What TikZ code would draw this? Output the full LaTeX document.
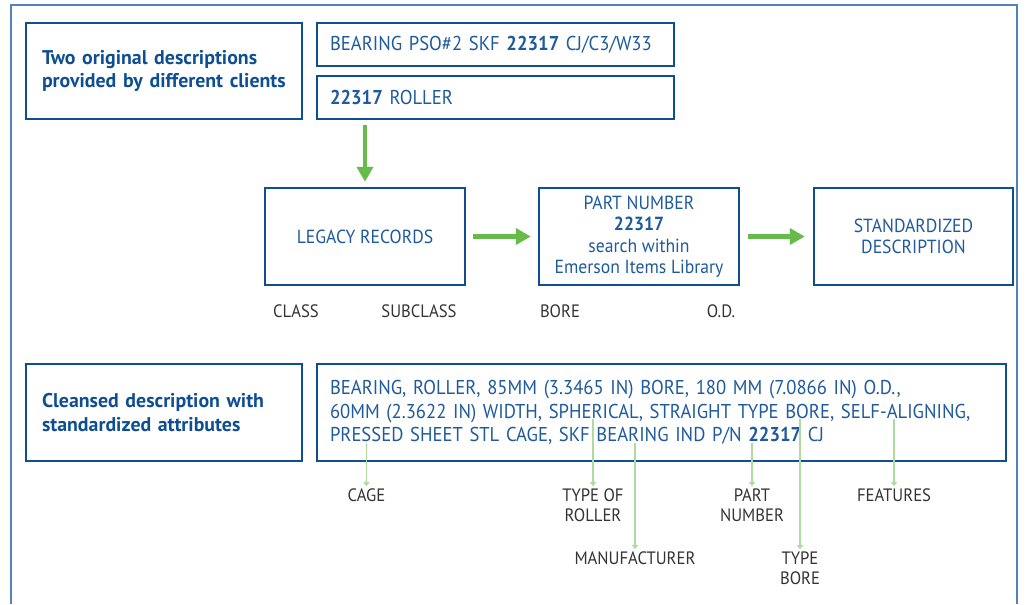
\documentclass[tikz,border=0pt]{standalone}
\usepackage{fontspec}
\setmainfont{PT Sans}[FakeStretch=0.93]
\newfontfamily\titlefont{PT Sans}
\usetikzlibrary{arrows.meta}
\definecolor{emblue}{HTML}{0F4E92}
\definecolor{emtext}{HTML}{1E5A9C}
\definecolor{framecol}{HTML}{5283BC}
\definecolor{emgreen}{HTML}{66BB4A}
\definecolor{lightgreen}{HTML}{AEDCA0}
\definecolor{labelgray}{HTML}{333333}
\begin{document}
\begin{tikzpicture}[
  titlebox/.style={draw=emblue,line width=1.4pt,text=emblue,align=left,inner xsep=0.32cm,
    font=\titlefont\bfseries\fontsize{11.3}{13.2}\selectfont},
  descbox/.style={draw=emblue,line width=1.4pt,text=emtext,align=left,inner xsep=0.26cm,
    font=\fontsize{11.4}{13.4}\selectfont},
  stagebox/.style={draw=emblue,line width=1.4pt,text=emtext,align=center,minimum width=4cm,
    minimum height=1.94cm,font=\fontsize{10.8}{12.2}\selectfont},
  fieldlabel/.style={text=labelgray,align=center,inner sep=0.04cm,font=\fontsize{10.2}{11.4}\selectfont},
  bigarrow/.style={draw=emgreen,line width=2.3pt,-{Triangle[length=0.3cm,width=0.32cm]}},
  thinarrow/.style={draw=lightgreen,line width=1.1pt,-{Triangle[length=0.08cm,width=0.12cm]}}]
\useasboundingbox (0,0) rectangle (20.62,-12.08);
\draw[framecol,line width=0.9pt] (0.22,-12.08) -- (0.22,-0.10) -- (20.34,-0.10) -- (20.34,-12.08);

\node[titlebox,text width=4.88cm,minimum height=1.92cm] (orig) at (3.28,-1.42) {Two original descriptions\\provided by different clients};
\node[descbox,text width=6.62cm,minimum height=0.86cm] (clienta) at (9.91,-0.89) {BEARING PSO\#2 SKF \textbf{22317} CJ/C3/W33};
\node[descbox,text width=6.62cm,minimum height=0.86cm] (clientb) at (9.91,-1.95) {\textbf{22317} ROLLER};

\node[stagebox] (legacy) at (7.30,-4.73) {LEGACY RECORDS};
\node[stagebox] (partno) at (12.78,-4.73) {PART NUMBER\\\textbf{22317}\\search within\\Emerson Items Library};
\node[stagebox,minimum width=3.98cm] (stddesc) at (18.27,-4.73) {STANDARDIZED\\DESCRIPTION};

\draw[bigarrow,shorten <=0.1cm,shorten >=0.1cm] (legacy.north |- clientb.south) -- (legacy.north);
\draw[bigarrow,shorten <=0.14cm,shorten >=0.14cm] (legacy) -- (partno);
\draw[bigarrow,shorten <=0.16cm,shorten >=0.16cm] (partno) -- (stddesc);

\node[fieldlabel] (class) at (5.92,-6.23) {CLASS};
\node[fieldlabel] (subclass) at (8.38,-6.23) {SUBCLASS};
\node[fieldlabel] (bore) at (11.20,-6.23) {BORE};
\node[fieldlabel] (od) at (14.42,-6.23) {O.D.};

\node[titlebox,text width=4.88cm,minimum height=1.94cm] (cleansed) at (3.28,-8.25) {Cleansed description with\\standardized attributes};
\node[descbox,text width=13.26cm,minimum height=1.94cm] (cleantext) at (13.23,-8.25) {BEARING, ROLLER, 85MM (3.3465 IN) BORE, 180 MM (7.0866 IN) O.D.,\\60MM (2.3622 IN) WIDTH, SPHERICAL, STRAIGHT TYPE BORE, SELF-ALIGNING,\\PRESSED SHEET STL CAGE, SKF BEARING IND P/N \textbf{22317} CJ};

\node[fieldlabel] (cage) at (7.33,-9.90) {CAGE};
\node[fieldlabel] (rollertype) at (11.86,-10.10) {TYPE OF\\ROLLER};
\node[fieldlabel] (maker) at (12.70,-11.16) {MANUFACTURER};
\node[fieldlabel] (partnum) at (15.04,-10.10) {PART\\NUMBER};
\node[fieldlabel] (typebore) at (16.00,-11.36) {TYPE\\BORE};
\node[fieldlabel] (features) at (17.88,-9.90) {FEATURES};

\coordinate (cagetick) at (7.33,-8.86);
\coordinate (rollertick) at (11.86,-8.38);
\coordinate (makertick) at (12.70,-8.86);
\coordinate (parttick) at (15.04,-8.86);
\coordinate (boretick) at (16.00,-8.38);
\coordinate (featuretick) at (17.88,-8.38);
\draw[thinarrow] (cagetick) -- (cagetick |- cage.north);
\draw[thinarrow] (rollertick) -- (rollertick |- rollertype.north);
\draw[thinarrow] (makertick) -- (makertick |- maker.north);
\draw[thinarrow] (parttick) -- (parttick |- partnum.north);
\draw[thinarrow] (boretick) -- (boretick |- typebore.north);
\draw[thinarrow] (featuretick) -- (featuretick |- features.north);
\end{tikzpicture}
\end{document}
